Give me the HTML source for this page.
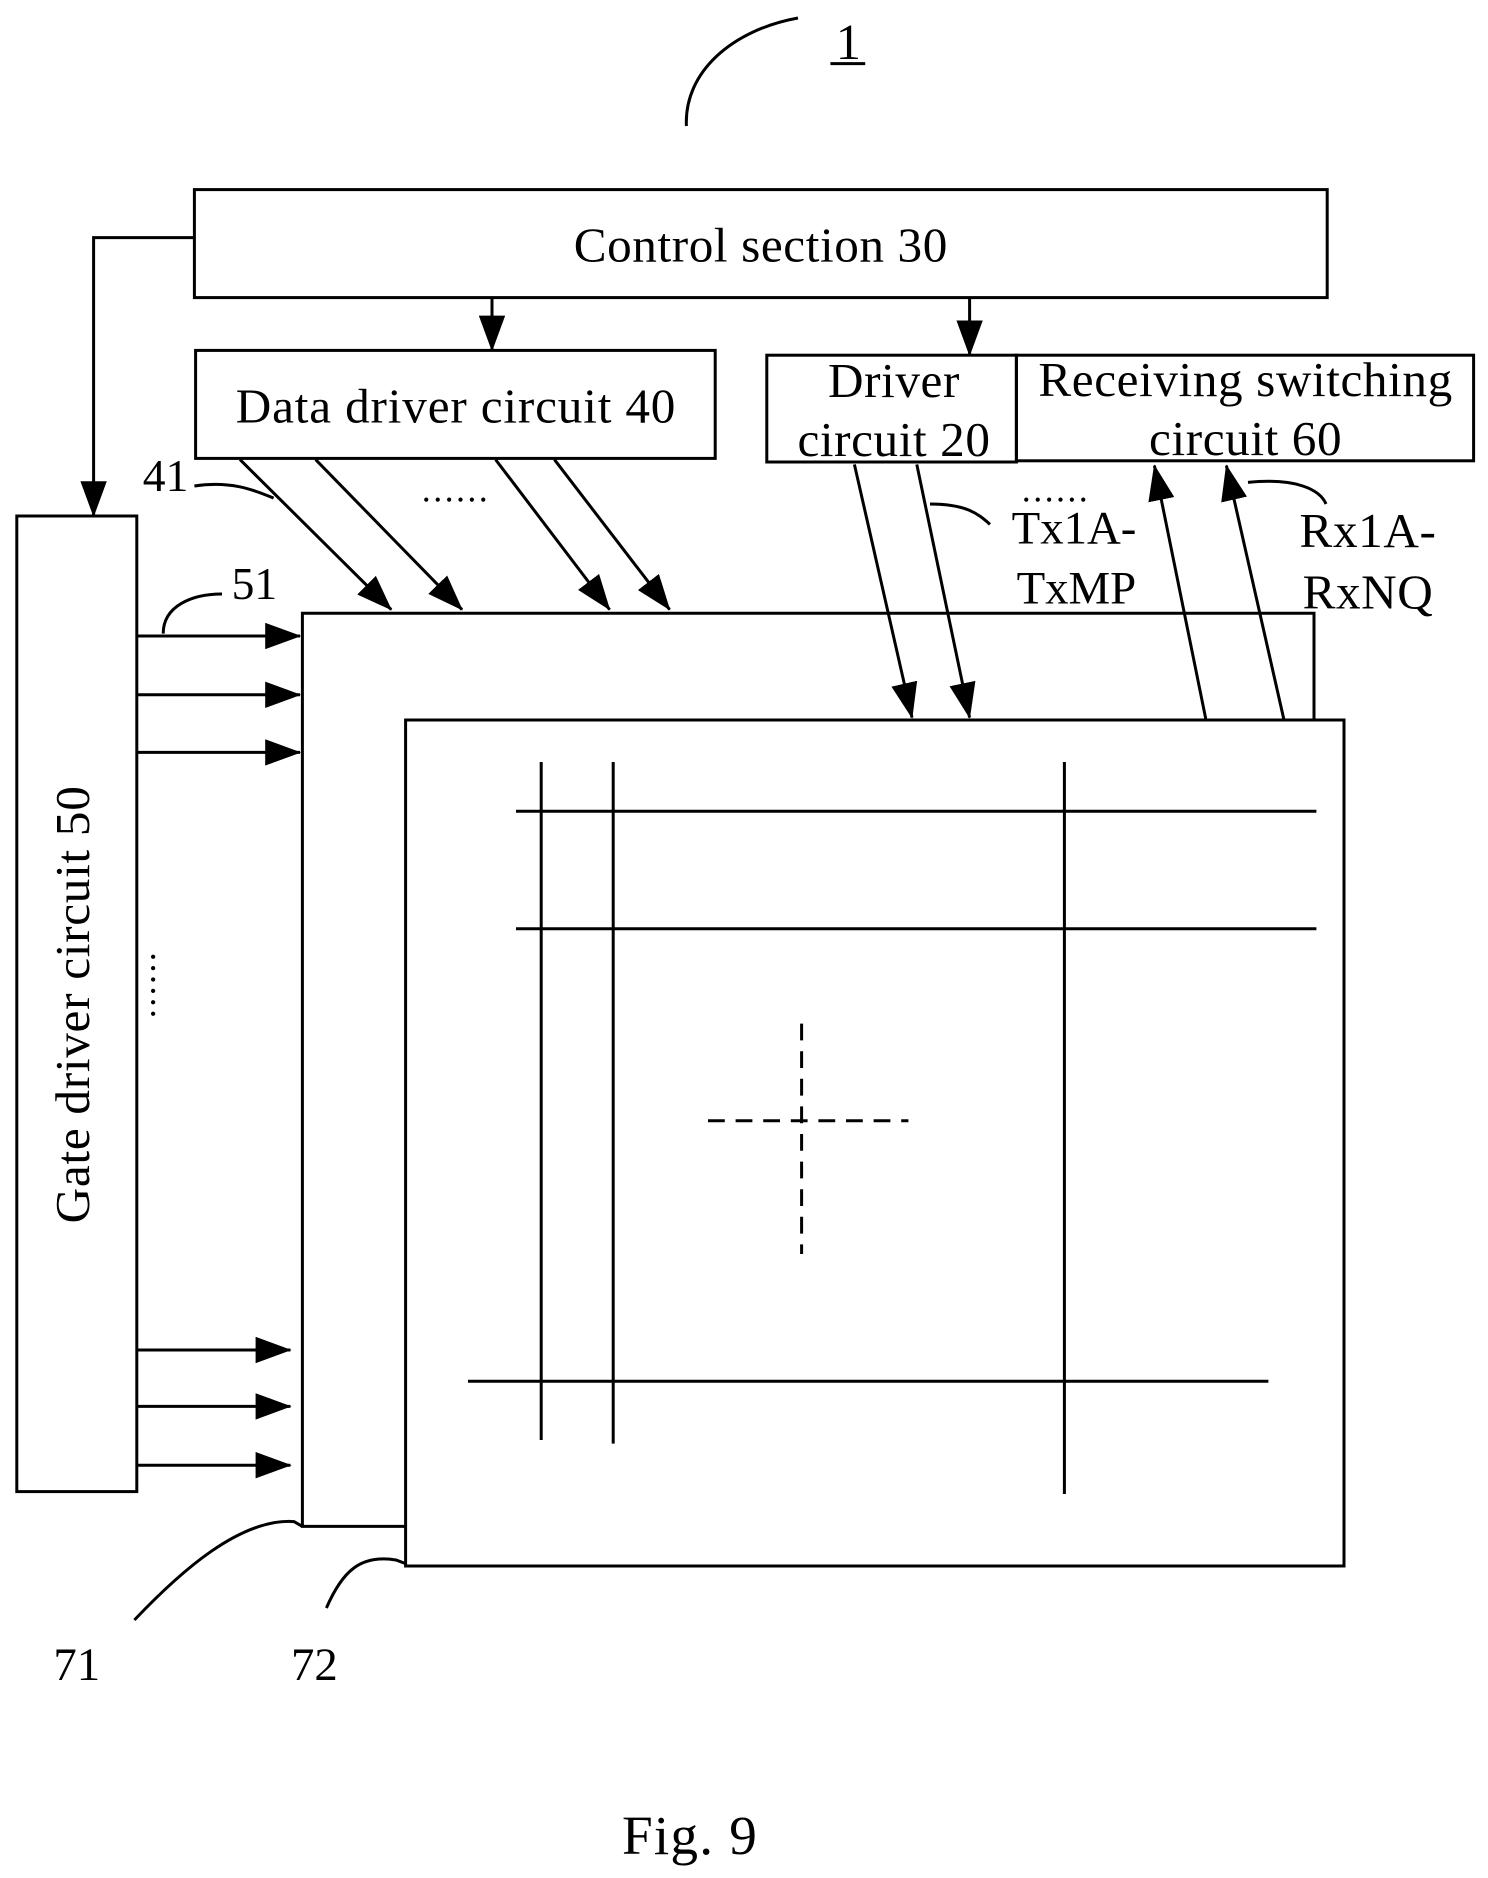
<!DOCTYPE html>
<html><head><meta charset="utf-8"><style>html,body{margin:0;padding:0;background:#fff}svg{display:block}</style></head><body>
<svg width="1488" height="1878" viewBox="0 0 1240 1565" xmlns="http://www.w3.org/2000/svg" font-family="'Liberation Serif', serif" fill="none" stroke="#000" stroke-width="2.5">
<defs>
<marker id="b" markerWidth="30" markerHeight="22" refX="29" refY="11" orient="auto" markerUnits="userSpaceOnUse"><path d="M0,0 L30,11 L0,22 z" fill="#000" stroke="none"/></marker></defs>
<g fill="#000" stroke="none">
<text x="707" y="49" font-size="42" text-anchor="middle">1</text>
<text x="634" y="218" font-size="41" text-anchor="middle" letter-spacing="0.5">Control section 30</text>
<text x="380" y="352" font-size="41" text-anchor="middle" letter-spacing="0.7">Data driver circuit 40</text>
<text x="745" y="331" font-size="41" text-anchor="middle" letter-spacing="0.5">Driver</text>
<text x="745" y="380" font-size="41" text-anchor="middle" letter-spacing="0.5">circuit 20</text>
<text x="1038" y="330" font-size="41" text-anchor="middle" letter-spacing="0.5">Receiving switching</text>
<text x="1038" y="379" font-size="41" text-anchor="middle" letter-spacing="0.5">circuit 60</text>
<text transform="translate(74,837) rotate(-90)" font-size="41" text-anchor="middle" letter-spacing="0.6">Gate driver circuit 50</text>
<text x="138" y="409" font-size="38" text-anchor="middle">41</text>
<text x="212" y="499" font-size="38" text-anchor="middle">51</text>
<text x="380" y="418" font-size="30" text-anchor="middle" letter-spacing="2">......</text>
<text x="880" y="418" font-size="30" text-anchor="middle" letter-spacing="2">......</text>
<text transform="translate(129,820) rotate(-90)" font-size="30" text-anchor="middle" letter-spacing="2">......</text>
<text x="895" y="453" font-size="39" text-anchor="middle">Tx1A-</text>
<text x="897" y="503" font-size="39" text-anchor="middle">TxMP</text>
<text x="1140" y="456" font-size="41" text-anchor="middle" letter-spacing="0.5">Rx1A-</text>
<text x="1140" y="507" font-size="41" text-anchor="middle" letter-spacing="0.5">RxNQ</text>
<text x="64" y="1400" font-size="39" text-anchor="middle">71</text>
<text x="262" y="1400" font-size="39" text-anchor="middle">72</text>
<text x="575" y="1545" font-size="46" text-anchor="middle" letter-spacing="1">Fig. 9</text>
</g>
<line x1="692" y1="53" x2="721" y2="53"/>
<path d="M572,105 C570,60 610,25 665,15"/>
<rect x="162" y="158" width="944" height="90"/>
<rect x="163" y="292" width="433" height="90"/>
<rect x="639" y="296" width="208" height="89"/>
<rect x="847" y="296" width="381" height="88"/>
<rect x="14" y="430" width="100" height="813"/>
<path d="M162,198 H78 V430" marker-end="url(#b)"/>
<line x1="410" y1="248" x2="410" y2="292" marker-end="url(#b)"/>
<line x1="808" y1="248" x2="808" y2="296" marker-end="url(#b)"/>
<path d="M338,1272 H252 V511 H1095 V600"/>
<rect x="338" y="600" width="782" height="705"/>
<g marker-end="url(#b)">
<line x1="200" y1="383" x2="326" y2="508"/><line x1="263" y1="383" x2="385" y2="508"/>
<line x1="413" y1="383" x2="508" y2="508"/><line x1="462" y1="383" x2="558" y2="508"/>
<line x1="114" y1="530" x2="250" y2="530"/><line x1="114" y1="579" x2="250" y2="579"/><line x1="114" y1="627" x2="250" y2="627"/>
<line x1="114" y1="1125" x2="242" y2="1125"/><line x1="114" y1="1172" x2="242" y2="1172"/><line x1="114" y1="1221" x2="242" y2="1221"/>
<line x1="712" y1="387" x2="760" y2="598"/><line x1="764" y1="387" x2="808" y2="598"/>
<line x1="1005" y1="600" x2="962" y2="388"/><line x1="1070" y1="600" x2="1022" y2="388"/>
</g>
<path d="M162,405 C195,400 215,410 228,415"/>
<path d="M136,528 C136,505 160,495 185,495"/>
<path d="M775,420 C805,420 815,428 825,437"/>
<path d="M1040,402 C1080,398 1100,408 1105,420"/>
<path d="M112,1350 C150,1310 200,1265 245,1268 L252,1272"/>
<path d="M272,1340 C285,1310 300,1295 330,1300 L338,1303"/>
<line x1="430" y1="676" x2="1097" y2="676"/><line x1="430" y1="774" x2="1097" y2="774"/>
<line x1="390" y1="1151" x2="1057" y2="1151"/>
<line x1="451" y1="635" x2="451" y2="1200"/><line x1="511" y1="635" x2="511" y2="1203"/><line x1="887" y1="635" x2="887" y2="1245"/>
<g stroke-dasharray="14,9"><line x1="590" y1="934" x2="757" y2="934"/><line x1="668" y1="853" x2="668" y2="1045"/></g>
</svg>
</body></html>
